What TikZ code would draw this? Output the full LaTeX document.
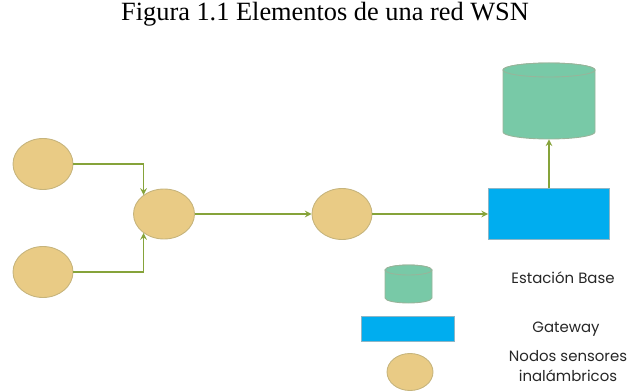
\documentclass[tikz,border=0pt]{standalone}
\usepackage{fontspec}
\setmainfont{Liberation Serif}
\newfontfamily\legendfont{Poppins}
\usetikzlibrary{shapes.geometric}
\definecolor{sensorfill}{HTML}{E9CB85}
\definecolor{sensorline}{HTML}{C6B47C}
\definecolor{basefill}{HTML}{78C9A7}
\definecolor{baseline}{HTML}{98B49A}
\definecolor{gwfill}{HTML}{00ADEF}
\definecolor{gwline}{HTML}{8DB6C6}
\definecolor{linkcol}{HTML}{86A33A}
\begin{document}
\begin{tikzpicture}[x=0.02cm,y=-0.02cm,
    sensor/.style={ellipse,draw=sensorline,fill=sensorfill,line width=0.5pt,inner sep=0pt},
    base/.style={draw=baseline,fill=basefill,line width=0.5pt},
    gw/.style={rectangle,draw=gwline,fill=gwfill,line width=0.5pt,inner sep=0pt},
    link/.style={draw=linkcol,line width=0.7pt,->,>=stealth},
    legend/.style={font=\legendfont\fontsize{8.5}{10}\selectfont,text=black!85}]
  \useasboundingbox (0,0) rectangle (634,391);
  \node (title) at (325,14) {\fontsize{15}{18}\selectfont Figura 1.1 Elementos de una red WSN};
  % nodos sensores
  \node[sensor,minimum width=1.2cm,minimum height=1.02cm] (s1) at (43,164) {};
  \node[sensor,minimum width=1.2cm,minimum height=1.02cm] (s2) at (43,272) {};
  \node[sensor,minimum width=1.22cm,minimum height=1cm] (s3) at (164,214) {};
  \node[sensor,minimum width=1.2cm,minimum height=1.02cm] (s4) at (342,214) {};
  % gateway
  \node[gw,minimum width=2.42cm,minimum height=1.02cm] (gw) at (549,214) {};
  % estacion base
  \node[inner sep=0pt,minimum width=1.84cm,minimum height=1.52cm] (bs) at (549,101) {};
  \draw[base] (503,70) -- (503,132) arc[start angle=180,end angle=0,x radius=46,y radius=7]
    -- (595,70) arc[start angle=0,end angle=-180,x radius=46,y radius=7] -- cycle;
  \draw[base] (549,70) ellipse[x radius=46,y radius=7];
  \draw[link] (s1.east) -| (s3.137);
  \draw[link] (s2.east) -| (s3.223);
  \draw[link] (s3) -- (s4);
  \draw[link] (s4) -- (gw);
  \draw[link] (gw) -- (bs);
  % leyenda
  \node[inner sep=0pt,minimum width=0.94cm,minimum height=0.76cm] (lbs) at (408,284) {};
  \draw[base] (385,270) -- (385,298) arc[start angle=180,end angle=0,x radius=23.5,y radius=5]
    -- (432,270) arc[start angle=0,end angle=-180,x radius=23.5,y radius=5] -- cycle;
  \draw[base] (408.5,270) ellipse[x radius=23.5,y radius=5];
  \node[gw,minimum width=1.86cm,minimum height=0.5cm] (lgw) at (408,329) {};
  \node[sensor,minimum width=0.92cm,minimum height=0.74cm] (ls) at (410,372) {};
  \node[legend] (tbs) at (563,278) {Estación Base};
  \node[legend] (tgw) at (566,329) {Gateway};
  \node[legend,align=center,inner sep=0pt] (ts) at (568,366) {Nodos sensores\\[1pt]inalámbricos};
\end{tikzpicture}
\end{document}
